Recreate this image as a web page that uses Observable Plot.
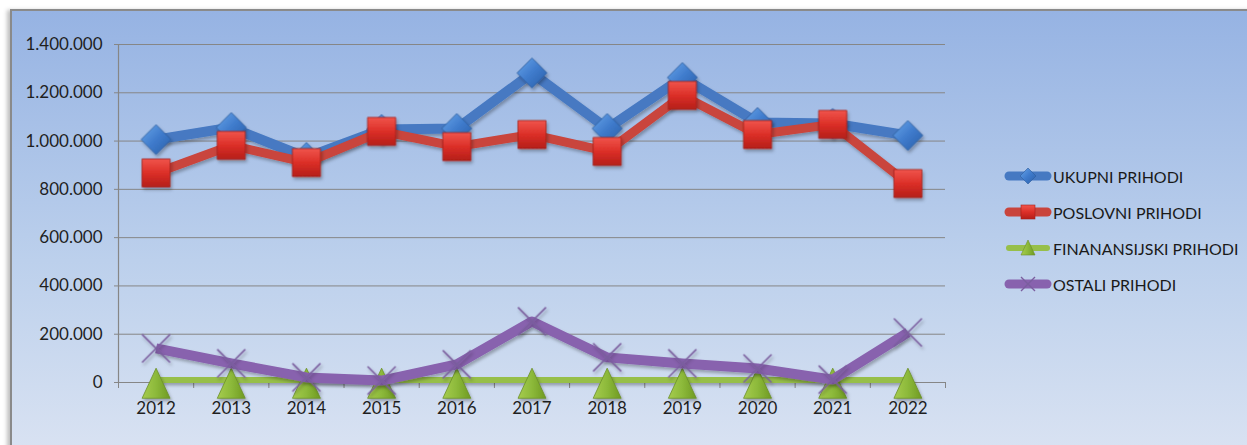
<!DOCTYPE html>
<html>
<head>
<meta charset="utf-8">
<script src="https://cdn.jsdelivr.net/npm/d3@7"></script>
<script src="https://cdn.jsdelivr.net/npm/@observablehq/plot@0.6"></script>
<style>
  body { margin: 0; background: #ffffff; }
  #wrap { position: relative; width: 1247px; height: 445px; overflow: hidden; font-family: Lato, "Open Sans", sans-serif; }
  #panel { position: absolute; left: 10px; top: 9px; width: 1300px; height: 500px;
    background: linear-gradient(to bottom, #96b3e3 0%, #bcd0ec 50%, #e2e8f4 100%);
    border-left: 2px solid #8a8a8a; border-top: 2px solid #8a8a8a;
    box-shadow: -3px 1px 4px rgba(0,0,0,0.25); }
  #chart { position: absolute; left: 0; top: 0; }
  #legend { position: absolute; left: 1003px; top: 164px; }
  .row { display: flex; align-items: center; height: 24px; margin-bottom: 12px; font-size: 16px; color: #1a1a1a; white-space: nowrap; }
  .row svg { margin-right: 2px; }
</style>
</head>
<body>
<div id="wrap">
  <div id="panel"></div>
  <div id="chart"></div>
  <div id="legend"></div>
</div>
<script>
// ---- data ----
const years = [2012, 2013, 2014, 2015, 2016, 2017, 2018, 2019, 2020, 2021, 2022];
const ukupniPrihodi = [1006000, 1056000, 932000, 1048000, 1052000, 1282000, 1052000, 1263000, 1077000, 1073000, 1023000];
const poslovniPrihodi = [868000, 982000, 911000, 1040000, 977000, 1027000, 957000, 1189000, 1027000, 1069000, 824000];
const finansijskiPrihodi = [10000, 10000, 10000, 10000, 10000, 10000, 10000, 10000, 10000, 10000, 10000];
const ostaliPrihodi = [141000, 79000, 21000, 8000, 75000, 253000, 104000, 79000, 58000, 12000, 207000];
const seriesNames = ["UKUPNI PRIHODI", "POSLOVNI PRIHODI", "FINANANSIJSKI PRIHODI", "OSTALI PRIHODI"];
const yTicks = [0, 200000, 400000, 600000, 800000, 1000000, 1200000, 1400000];

const seriesValues = [ukupniPrihodi, poslovniPrihodi, finansijskiPrihodi, ostaliPrihodi];
const rows = seriesNames.map((name, i) => years.map((year, j) => ({ series: name, year, value: seriesValues[i][j] })));

const fmt = v => d3.format(",")(v).replace(/,/g, ".");

// custom tall triangle (like Excel's marker)
const tallTriangle = {
  draw(ctx, size) {
    const r = Math.sqrt(size / Math.PI);
    ctx.moveTo(0, -r * 0.85);
    ctx.lineTo(r, r * 1.3);
    ctx.lineTo(-r, r * 1.3);
    ctx.closePath();
  }
};

const style = [
  { line: "#4679c2", lw: 10, symbol: "diamond2", r: 13.5, fill: "url(#gBlue)", stroke: "#2d5d9c", sw: 0.8 },
  { line: "#c9443c", lw: 9, symbol: "square", r: 15.8, fill: "url(#gRed)", stroke: "#a3211b", sw: 0.8 },
  { line: "#97bf4a", lw: 6, symbol: tallTriangle, r: 14, fill: "url(#gGreen)", stroke: "#6b8f2a", sw: 0.8 },
  { line: "#8862ae", lw: 10, symbol: "times", r: 12.8, fill: "none", stroke: "#7a5e9e", sw: 1.6 }
];

const marks = [
  Plot.gridY(yTicks, { stroke: "#868686", strokeOpacity: 1, strokeWidth: 1 }),
  Plot.axisY(yTicks, { tickSize: 4, tickPadding: 12, tickFormat: fmt, fontSize: 17, stroke: "#868686", color: "#1f1f1f", label: null }),
  Plot.ruleX([2011.5], { y1: 0, y2: 1400000, stroke: "#868686", strokeWidth: 1.2 }),
  Plot.ruleY([0], { stroke: "#868686", strokeWidth: 1.2 }),
  Plot.axisX(d3.range(2011.5, 2023, 1), { tickSize: 6, tickFormat: () => "", stroke: "#868686", label: null }),
  Plot.axisX(years, { tickSize: 0, tickPadding: 19, tickFormat: d => String(d), fontSize: 17, color: "#1f1f1f", label: null })
];
rows.forEach((data, i) => {
  const s = style[i];
  marks.push(Plot.line(data, { x: "year", y: "value", stroke: s.line, strokeWidth: s.lw, strokeLinejoin: "round", strokeLinecap: "butt" }));
  marks.push(Plot.dot(data, { x: "year", y: "value", symbol: s.symbol, r: s.r, fill: s.fill, stroke: s.stroke, strokeWidth: s.sw }));
});

const chart = Plot.plot({
  width: 1247,
  height: 445,
  marginLeft: 118,
  marginRight: 302,
  marginTop: 44,
  marginBottom: 63,
  style: { background: "transparent", fontFamily: "Lato, 'Open Sans', sans-serif", overflow: "visible" },
  x: { type: "linear", domain: [2011.5, 2022.5] },
  y: { domain: [0, 1400000] },
  marks
});

const defs = `
<defs>
  <linearGradient id="gBlue" x1="0" y1="0" x2="1" y2="1">
    <stop offset="0" stop-color="#6aa6ea"/><stop offset="0.5" stop-color="#3f7bcc"/><stop offset="1" stop-color="#2a5ea8"/>
  </linearGradient>
  <linearGradient id="gRed" x1="0" y1="0" x2="0" y2="1">
    <stop offset="0" stop-color="#f0554c"/><stop offset="0.5" stop-color="#dc2f28"/><stop offset="1" stop-color="#b51f19"/>
  </linearGradient>
  <linearGradient id="gGreen" x1="0" y1="0" x2="1" y2="0">
    <stop offset="0" stop-color="#a6cc4e"/><stop offset="0.5" stop-color="#8cb93a"/><stop offset="1" stop-color="#6f9a22"/>
  </linearGradient>
  <filter id="shadow" filterUnits="userSpaceOnUse" x="0" y="0" width="1247" height="445">
    <feDropShadow dx="1.5" dy="2.5" stdDeviation="1.8" flood-color="#000" flood-opacity="0.28"/>
  </filter>
</defs>`;
chart.insertAdjacentHTML("afterbegin", defs);
d3.select(chart).selectAll('g[aria-label="line"], g[aria-label="dot"]').attr("filter", "url(#shadow)");
document.getElementById("chart").appendChild(chart);

// ---- legend ----
const legend = document.getElementById("legend");
seriesNames.forEach((name, i) => {
  const s = style[i];
  const row = document.createElement("div");
  row.className = "row";
  let marker = "";
  if (i === 0) marker = `<path d="M25,4 L33,12 L25,20 L17,12 Z" fill="url(#gBlue)" stroke="#2d5d9c" stroke-width="0.6"/>`;
  if (i === 1) marker = `<rect x="18" y="5" width="14" height="14" fill="url(#gRed)" stroke="#a3211b" stroke-width="0.6"/>`;
  if (i === 2) marker = `<path d="M25,4 L32,19 L18,19 Z" fill="url(#gGreen)" stroke="#6b8f2a" stroke-width="0.6"/>`;
  if (i === 3) marker = `<path d="M18,5 L32,19 M32,5 L18,19" stroke="#7a5e9e" stroke-width="1.4"/>`;
  row.innerHTML = `<svg width="48" height="24" style="overflow:visible"><line x1="6" y1="12" x2="44" y2="12" stroke="${s.line}" stroke-width="${Math.min(s.lw, 9)}" stroke-linecap="round"/>${marker}</svg><span>${name}</span>`;
  legend.appendChild(row);
});
</script>
</body>
</html>
